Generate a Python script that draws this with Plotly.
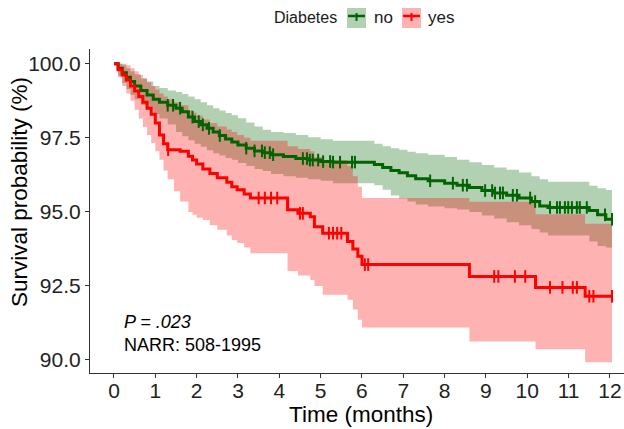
import numpy as np
import plotly.graph_objects as go

# ---- Kaplan-Meier estimates (survival, %) by diabetes status ----
# group "no"
no_time = [0, 0.1, 0.2, 0.3, 0.4, 0.5, 0.65, 0.8, 0.95, 1.1,
           1.3, 1.5, 1.65, 1.8, 1.95, 2.1, 2.25, 2.4, 2.55, 2.7,
           2.85, 3.0, 3.2, 3.4, 3.6, 3.8, 4.1, 4.4, 4.7, 5.0,
           5.3, 6.3, 6.5, 6.7, 6.9, 7.1, 7.3, 7.6, 8.0, 8.3,
           8.6, 8.9, 9.2, 9.5, 9.8, 10.1, 10.3, 10.5, 11.5, 11.7,
           11.9, 12.05]
no_surv = [100, 99.85, 99.7, 99.55, 99.4, 99.25, 99.1, 98.95, 98.8, 98.7,
           98.6, 98.5, 98.38, 98.2, 98.05, 97.94, 97.82, 97.7, 97.58, 97.46,
           97.36, 97.26, 97.15, 97.06, 97.0, 96.93, 96.87, 96.8, 96.75, 96.7,
           96.68, 96.6, 96.5, 96.4, 96.32, 96.22, 96.12, 96.05, 95.97, 95.9,
           95.82, 95.72, 95.64, 95.56, 95.47, 95.35, 95.2, 95.15, 95.05, 94.9,
           94.75, 94.75]
no_upper = [100, 100, 99.95, 99.85, 99.75, 99.65, 99.5, 99.4, 99.25, 99.18,
            99.1, 99.05, 98.98, 98.9, 98.8, 98.7, 98.6, 98.5, 98.42, 98.34,
            98.26, 98.16, 98.02, 97.88, 97.77, 97.7, 97.66, 97.6, 97.52, 97.45,
            97.4, 97.3, 97.22, 97.15, 97.1, 97.03, 96.98, 96.93, 96.85, 96.76,
            96.68, 96.58, 96.5, 96.42, 96.33, 96.2, 96.1, 96.02, 95.88, 95.8,
            95.74, 95.74]
no_lower = [100, 99.6, 99.35, 99.15, 98.95, 98.8, 98.62, 98.45, 98.3, 98.15,
            97.95, 97.7, 97.55, 97.42, 97.3, 97.2, 97.08, 96.98, 96.9, 96.82,
            96.76, 96.65, 96.55, 96.45, 96.38, 96.28, 96.2, 96.15, 96.1, 96.05,
            95.97, 95.9, 95.75, 95.55, 95.45, 95.35, 95.25, 95.18, 95.12, 95.08,
            95.0, 94.88, 94.78, 94.65, 94.55, 94.42, 94.3, 94.2, 94.0, 93.85,
            93.8, 93.8]
no_censor = [1.3, 1.43, 1.6, 1.9, 2.05, 2.15, 2.3, 2.56, 3.2, 3.4,
             3.58, 3.65, 3.77, 3.85, 4.57, 4.67, 4.74, 4.81, 4.94, 5.06,
             5.23, 5.3, 5.47, 5.76, 5.83, 7.65, 8.2, 8.44, 8.54, 8.98,
             9.15, 9.22, 9.34, 9.41, 9.65, 9.75, 10.07, 10.19, 10.55, 10.72,
             10.79, 10.91, 10.99, 11.08, 11.2, 11.27, 11.44, 11.88, 12.05]

# group "yes"
yes_time = [0, 0.1, 0.2, 0.3, 0.4, 0.5, 0.6, 0.7, 0.8, 0.9,
            1.0, 1.1, 1.2, 1.3, 1.45, 1.6, 1.8, 1.9, 2.0, 2.15,
            2.32, 2.5, 2.73, 2.85, 2.98, 3.15, 3.3, 4.2, 4.45, 4.75,
            4.85, 5.05, 5.65, 5.78, 5.9, 6.0, 8.6, 10.2, 11.4, 12.05]
yes_surv = [100, 99.8, 99.62, 99.45, 99.25, 99.08, 98.9, 98.7, 98.5, 98.3,
            98.0, 97.6, 97.3, 97.1, 97.1, 97.05, 96.88, 96.75, 96.62, 96.45,
            96.3, 96.15, 96.0, 95.85, 95.75, 95.6, 95.47, 95.07, 94.95, 94.84,
            94.5, 94.28, 94.0, 93.75, 93.5, 93.22, 92.82, 92.45, 92.15, 92.15]
yes_upper = [100, 100, 100, 99.95, 99.85, 99.75, 99.62, 99.5, 99.38, 99.25,
             99.12, 99.0, 98.9, 98.8, 98.7, 98.6, 98.42, 98.35, 98.25, 98.12,
             98.0, 97.88, 97.78, 97.7, 97.6, 97.5, 97.4, 97.22, 97.12, 97.05,
             96.85, 96.75, 96.55, 96.2, 95.85, 95.47, 95.34, 94.92, 94.6, 94.6]
yes_lower = [100, 99.55, 99.25, 99.0, 98.75, 98.45, 98.15, 97.87, 97.6, 97.33,
             97.05, 96.76, 96.4, 96.1, 95.7, 95.35, 95.0, 94.9, 94.8, 94.73,
             94.55, 94.4, 94.2, 94.05, 93.95, 93.8, 93.6, 93.0, 92.85, 92.7,
             92.5, 92.2, 92.03, 91.7, 91.36, 91.1, 90.62, 90.36, 89.92, 89.92]
yes_censor = [1.31, 3.5, 3.65, 3.8, 3.95, 4.5, 4.57, 5.2, 5.3, 5.4,
              5.5, 6.07, 6.15, 9.2, 9.3, 9.7, 9.95, 10.55, 10.85, 11.1,
              11.2, 11.5, 11.6, 12.05]

x_ticks = list(range(0, 13))
y_ticks = [90.0, 92.5, 95.0, 97.5, 100.0]

GREEN = "#006400"
RED = "#FF0000"
GREEN_FILL = "rgba(0,100,0,0.3)"
RED_FILL = "rgba(255,0,0,0.3)"
FONT = "Liberation Sans, Arial, sans-serif"


def step_value(times, surv, t):
    idx = np.searchsorted(np.asarray(times), np.asarray(t), side="right") - 1
    return np.asarray(surv)[idx]


fig = go.Figure()

groups = [
    ("no", no_time, no_surv, no_upper, no_lower, no_censor, GREEN, GREEN_FILL),
    ("yes", yes_time, yes_surv, yes_upper, yes_lower, yes_censor, RED, RED_FILL),
]

# confidence bands
for name, t, s, up, lo, cens, col, fill in groups:
    fig.add_trace(go.Scatter(x=t, y=up, mode="lines", line=dict(width=0, shape="hv"),
                             hoverinfo="skip", showlegend=False))
    fig.add_trace(go.Scatter(x=t, y=lo, mode="lines", line=dict(width=0, shape="hv"),
                             fill="tonexty", fillcolor=fill, hoverinfo="skip",
                             showlegend=False))

# survival curves and censoring ticks
for name, t, s, up, lo, cens, col, fill in groups:
    fig.add_trace(go.Scatter(x=t, y=s, mode="lines", name=name,
                             line=dict(color=col, width=3, shape="hv"),
                             showlegend=False))
    fig.add_trace(go.Scatter(x=cens, y=step_value(t, s, cens), mode="markers",
                             marker=dict(symbol="line-ns", size=9,
                                         line=dict(color=col, width=2)),
                             hoverinfo="skip", showlegend=False))

# legend drawn in the top margin
shapes = []
annotations = []
legend_keys = [("no", 0.4813, 0.5169, 0.5496, GREEN, GREEN_FILL),
               ("yes", 0.5843, 0.6199, 0.6564, RED, RED_FILL)]
for label, x0, x1, xt, col, fill in legend_keys:
    shapes.append(dict(type="rect", xref="paper", yref="paper", x0=x0, x1=x1,
                       y0=1.0648, y1=1.1265, fillcolor=fill, line=dict(width=0)))
    shapes.append(dict(type="line", xref="paper", yref="paper", x0=x0 + 0.002,
                       x1=x1 - 0.002, y0=1.1019, y1=1.1019,
                       line=dict(color=col, width=2.5)))
    xm = (x0 + x1) / 2
    shapes.append(dict(type="line", xref="paper", yref="paper", x0=xm, x1=xm,
                       y0=1.0864, y1=1.1111, line=dict(color=col, width=2)))
    annotations.append(dict(text=label, xref="paper", yref="paper", x=xt, y=1.0957,
                            showarrow=False, xanchor="center", yanchor="middle",
                            font=dict(size=17, color="#1a1a1a", family=FONT)))
annotations.append(dict(text="Diabetes", xref="paper", yref="paper", x=0.4036,
                        y=1.0957, showarrow=False, xanchor="center", yanchor="middle",
                        font=dict(size=16, color="#1a1a1a", family=FONT)))

# in-panel statistics
annotations.append(dict(text="<i>P = .023</i>", xref="paper", yref="paper", x=0.0599,
                        y=0.1574, showarrow=False, xanchor="left", yanchor="middle",
                        font=dict(size=18, color="#000000", family=FONT)))
annotations.append(dict(text="NARR: 508-1995", xref="paper", yref="paper", x=0.0599,
                        y=0.0864, showarrow=False, xanchor="left", yanchor="middle",
                        font=dict(size=18, color="#000000", family=FONT)))

# axis titles
annotations.append(dict(text="Time (months)", xref="paper", yref="paper", x=0.5075,
                        y=-0.1296, showarrow=False, xanchor="center", yanchor="middle",
                        font=dict(size=22.5, color="#000000", family=FONT)))
annotations.append(dict(text="Survival probability (%)", xref="paper", yref="paper",
                        x=-0.133, y=0.5586, textangle=-90, showarrow=False,
                        xanchor="center", yanchor="middle",
                        font=dict(size=22.5, color="#000000", family=FONT)))

fig.update_layout(
    width=624, height=429,
    margin=dict(l=90, r=0, t=49, b=56),
    paper_bgcolor="white", plot_bgcolor="white",
    shapes=shapes, annotations=annotations,
    showlegend=False,
    font=dict(family=FONT),
)
fig.update_xaxes(
    range=[-0.58, 12.34], tickvals=x_ticks, ticktext=[str(v) for v in x_ticks],
    showgrid=False, zeroline=False, showline=True, linecolor="#333333", linewidth=1.2,
    ticks="outside", ticklen=4, tickcolor="#333333", tickwidth=1.2,
    tickfont=dict(size=21, color="#222222"), ticklabelstandoff=-5,
)
fig.update_yaxes(
    range=[89.56, 100.5], tickvals=y_ticks, ticktext=[f"{v:.1f}" for v in y_ticks],
    showgrid=False, zeroline=False, showline=True, linecolor="#333333", linewidth=1.2,
    ticks="outside", ticklen=4, tickcolor="#333333", tickwidth=1.2,
    tickfont=dict(size=21, color="#222222"),
)

fig.write_html("out.html")
